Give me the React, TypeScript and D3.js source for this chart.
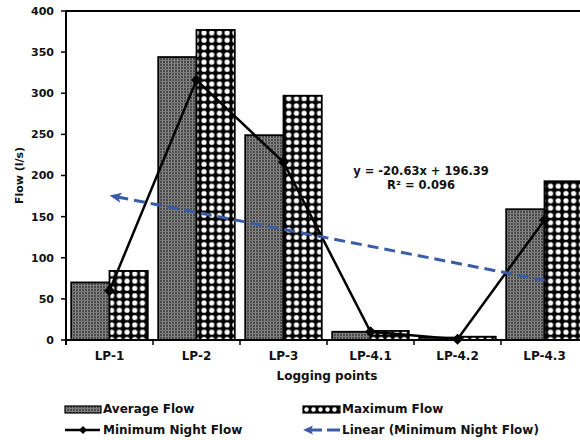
import React from "react";
import * as d3 from "d3";

const categories = ["LP-1", "LP-2", "LP-3", "LP-4.1", "LP-4.2", "LP-4.3"];
const averageFlow = [70, 344, 249, 10, 3, 159];
const maximumFlow = [84, 377, 297, 11, 4, 193];
const minNightFlow = [60, 316, 216, 10, 1, 146];
const yTicks = [0, 50, 100, 150, 200, 250, 300, 350, 400];
const trendSlope = -20.63;
const trendIntercept = 196.39;
const trendLabel = "y = -20.63x + 196.39";
const r2Label = "R² = 0.096";

const W = 580;
const H = 440;
const m = { left: 66, top: 11, right: 588, bottom: 340 };
const font = "'DejaVu Sans', Arial, sans-serif";
const blue = "#3a5ca6";
const txt = "#111";

export default function App() {
  const x = d3.scaleBand<string>().domain(categories).range([m.left, m.right]).paddingInner(0).paddingOuter(0);
  const y = d3.scaleLinear().domain([0, 400]).range([m.bottom, m.top]);
  const bw = x.bandwidth();
  const barW = bw * 0.44;
  const off = (bw - barW * 2) / 2;
  const cx = (c: string) => (x(c) as number) + bw / 2;

  const line = d3
    .line<number>()
    .x((_, i) => cx(categories[i]))
    .y((d) => y(d));

  const t1 = trendSlope * 1 + trendIntercept;
  const t6 = trendSlope * 6 + trendIntercept;
  const tx1 = cx(categories[0]);
  const tx6 = cx(categories[5]);
  const ty1 = y(t1);
  const ty6 = y(t6);
  const ang = Math.atan2(ty6 - ty1, tx6 - tx1);

  const diamond = (r: number) => `M0,${-r}L${r},0L0,${r}L${-r},0Z`;

  return (
    <svg width={W} height={H} style={{ position: "absolute", left: 0, top: 0, background: "#fff" }} fontFamily={font}>
      <defs>
        <pattern id="avgPat" width="3" height="3" patternUnits="userSpaceOnUse">
          <rect width="3" height="3" fill="#4a4a4a" />
          <rect x="0" y="0" width="1" height="3" fill="#8a8a8a" />
          <rect x="0" y="0" width="3" height="1" fill="#7a7a7a" />
        </pattern>
        <pattern id="maxPat" width="7.7" height="7.3" patternUnits="userSpaceOnUse">
          <rect width="7.7" height="7.3" fill="#000" />
          <circle cx="3.85" cy="3.65" r="2.6" fill="#fff" />
        </pattern>
        <pattern id="maxPatLeg" width="7" height="7" patternUnits="userSpaceOnUse" x="303" y="406">
          <rect width="7" height="7" fill="#000" />
          <circle cx="3.5" cy="3.5" r="2.2" fill="#fff" />
        </pattern>
        <clipPath id="plotClip">
          <rect x={m.left} y={m.top - 2} width={m.right - m.left} height={m.bottom - m.top + 8} />
        </clipPath>
      </defs>

      {/* bars */}
      {categories.map((c, i) => (
        <g key={c}>
          <rect
            x={(x(c) as number) + off}
            y={y(averageFlow[i])}
            width={barW}
            height={m.bottom - y(averageFlow[i])}
            fill="url(#avgPat)"
            stroke="#000"
            strokeWidth={1.8}
          />
          <rect
            x={(x(c) as number) + off + barW}
            y={y(maximumFlow[i])}
            width={barW}
            height={m.bottom - y(maximumFlow[i])}
            fill="url(#maxPat)"
            stroke="#000"
            strokeWidth={1.8}
          />
        </g>
      ))}

      {/* frame */}
      <line x1={m.left} x2={m.right} y1={m.top} y2={m.top} stroke="#000" strokeWidth={2} />
      <line x1={m.right} x2={m.right} y1={m.top} y2={m.bottom} stroke="#000" strokeWidth={2} />
      <line x1={m.left} x2={m.left} y1={m.top} y2={m.bottom + 5} stroke="#000" strokeWidth={2} />
      <line x1={m.left - 1} x2={m.right} y1={m.bottom} y2={m.bottom} stroke="#000" strokeWidth={2} />

      {/* y ticks */}
      {yTicks.map((t) => (
        <g key={t}>
          <line x1={m.left - 5} x2={m.left} y1={y(t)} y2={y(t)} stroke="#000" strokeWidth={1.5} />
          <text x={m.left - 12} y={y(t)} dy="0.36em" textAnchor="end" fontSize={11} fontWeight="bold" fill={txt}>
            {t}
          </text>
        </g>
      ))}

      {/* x ticks */}
      {categories.map((c) => (
        <line key={c} x1={x(c) as number} x2={x(c) as number} y1={m.bottom} y2={m.bottom + 5} stroke="#000" strokeWidth={1.5} />
      ))}
      {categories.map((c) => (
        <text key={c} x={cx(c)} y={360} textAnchor="middle" fontSize={12} fontWeight="bold" fill={txt}>
          {c}
        </text>
      ))}

      <text x={(m.left + m.right) / 2} y={380} textAnchor="middle" fontSize={12} fontWeight="bold" fill={txt}>
        Logging points
      </text>
      <text
        transform={`translate(23,${(m.top + m.bottom) / 2}) rotate(-90)`}
        textAnchor="middle"
        fontSize={11}
        fontWeight="bold"
        fill={txt}
      >
        Flow (l/s)
      </text>

      {/* min night flow */}
      <g clipPath="url(#plotClip)">
        <path d={line(minNightFlow) || ""} fill="none" stroke="#000" strokeWidth={2.5} />
        {minNightFlow.map((v, i) => (
          <path key={i} d={diamond(5.5)} transform={`translate(${cx(categories[i])},${y(v)})`} fill="#000" />
        ))}
      </g>

      {/* trend line */}
      <line
        x1={tx1 + 8 * Math.cos(ang)}
        y1={ty1 + 8 * Math.sin(ang)}
        x2={tx6}
        y2={ty6}
        stroke={blue}
        strokeWidth={3}
        strokeDasharray="11,6"
      />
      <path
        d={`M0,0 L12,-5 L9,0 L12,5 Z`}
        transform={`translate(${tx1},${ty1}) rotate(${(ang * 180) / Math.PI})`}
        fill={blue}
      />

      {/* equation */}
      <text x={421} y={175} textAnchor="middle" fontSize={11.5} fontWeight="bold" fill={txt}>
        {trendLabel}
      </text>
      <text x={421} y={189} textAnchor="middle" fontSize={11.5} fontWeight="bold" fill={txt}>
        {r2Label}
      </text>

      {/* legend */}
      <rect x={65} y={406} width={36} height={7} fill="url(#avgPat)" stroke="#000" strokeWidth={1.2} />
      <text x={103} y={413} fontSize={12} fontWeight="bold" fill={txt}>Average Flow</text>
      <rect x={303} y={406} width={37} height={7} fill="url(#maxPatLeg)" stroke="#000" strokeWidth={1.2} />
      <text x={342} y={413} fontSize={12} fontWeight="bold" fill={txt}>Maximum Flow</text>

      <line x1={65} x2={100} y1={430} y2={430} stroke="#000" strokeWidth={2.5} />
      <path d={diamond(4)} transform="translate(83,430)" fill="#000" />
      <text x={103} y={434} fontSize={12} fontWeight="bold" fill={txt}>Minimum Night Flow</text>

      <line x1={309} x2={322} y1={430} y2={430} stroke={blue} strokeWidth={3} />
      <line x1={327} x2={340} y1={430} y2={430} stroke={blue} strokeWidth={3} />
      <path d="M303,430 L313,425.5 L311,430 L313,434.5 Z" fill={blue} />
      <text x={342} y={434} fontSize={12} fontWeight="bold" fill={txt}>Linear (Minimum Night Flow)</text>
    </svg>
  );
}
